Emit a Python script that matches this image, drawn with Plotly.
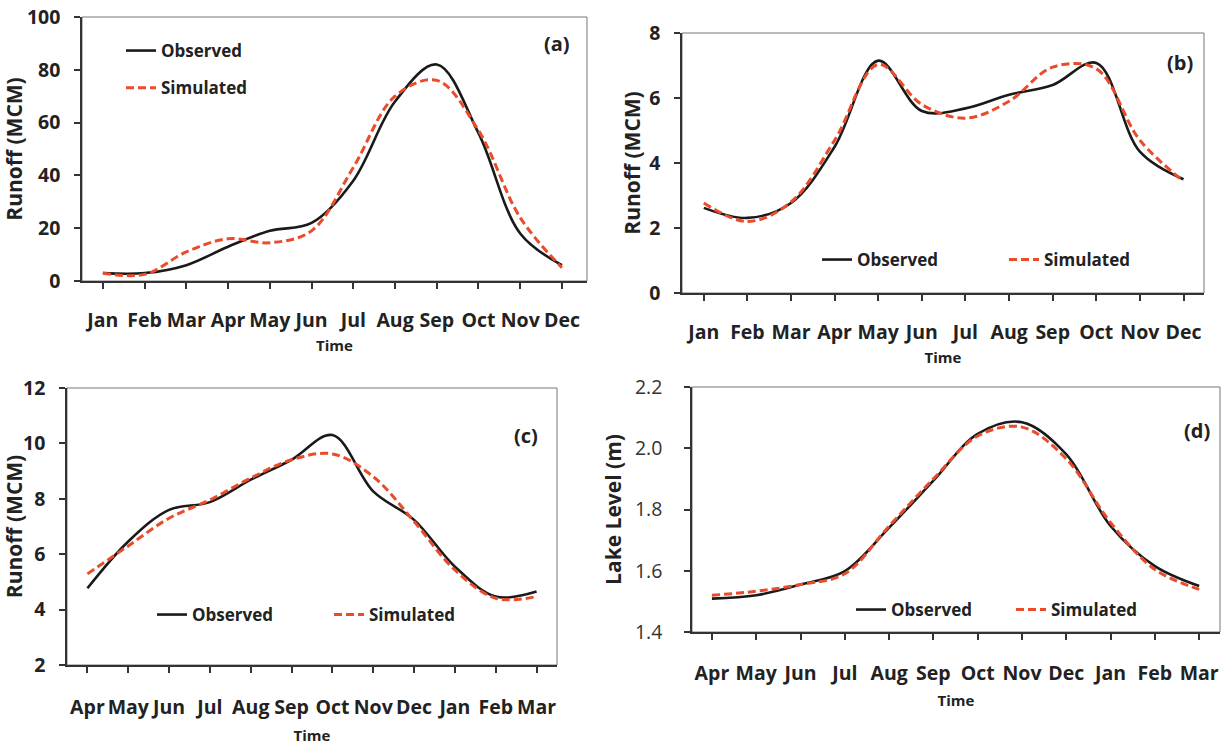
import plotly.graph_objects as go

W, H = 1231, 746

months_a = ["Jan", "Feb", "Mar", "Apr", "May", "Jun", "Jul", "Aug", "Sep", "Oct", "Nov", "Dec"]
obs_a = [3, 3, 6, 13, 19, 22, 38, 68, 82, 56, 18, 6]
sim_a = [3, 2.5, 11, 16, 14.5, 19, 43, 70, 76, 57, 24, 5]

months_b = ["Jan", "Feb", "Mar", "Apr", "May", "Jun", "Jul", "Aug", "Sep", "Oct", "Nov", "Dec"]
obs_b = [2.62, 2.31, 2.77, 4.5, 7.15, 5.6, 5.68, 6.1, 6.4, 7.08, 4.35, 3.5]
sim_b = [2.77, 2.2, 2.8, 4.7, 7.03, 5.8, 5.38, 5.9, 6.95, 6.9, 4.7, 3.44]

months_c = ["Apr", "May", "Jun", "Jul", "Aug", "Sep", "Oct", "Nov", "Dec", "Jan", "Feb", "Mar"]
obs_c = [4.77, 6.46, 7.6, 7.88, 8.69, 9.41, 10.3, 8.27, 7.24, 5.55, 4.47, 4.65]
sim_c = [5.29, 6.3, 7.3, 7.96, 8.75, 9.41, 9.62, 8.8, 7.18, 5.43, 4.41, 4.47]

months_d = ["Apr", "May", "Jun", "Jul", "Aug", "Sep", "Oct", "Nov", "Dec", "Jan", "Feb", "Mar"]
obs_d = [1.509, 1.52, 1.555, 1.599, 1.741, 1.894, 2.047, 2.085, 1.98, 1.746, 1.615, 1.55]
sim_d = [1.52, 1.533, 1.555, 1.59, 1.746, 1.9, 2.04, 2.069, 1.965, 1.757, 1.604, 1.539]

FONT = "Open Sans, Lato, sans-serif"
BLACK = "#1a1a1a"
RED = "#EA4B2B"

# plot areas in pixels: (left, right, top, bottom)
boxes = {
    "a": (82, 587, 17, 281),
    "b": (682, 1204, 33, 293),
    "c": (67, 557, 388, 665),
    "d": (692, 1220, 387, 632),
}
xranges = {"a": [-0.5, 11.6], "b": [-0.5, 11.47], "c": [-0.5, 11.5], "d": [-0.45, 11.47]}


def xdom(b):
    return [b[0] / W, b[1] / W]


def ydom(b):
    return [1 - b[3] / H, 1 - b[2] / H]


fig = go.Figure()

panels = [
    ("a", "", months_a, obs_a, sim_a, "legend"),
    ("b", "2", months_b, obs_b, sim_b, "legend2"),
    ("c", "3", months_c, obs_c, sim_c, "legend3"),
    ("d", "4", months_d, obs_d, sim_d, "legend4"),
]

for key, xs, months, obs, sim, leg in panels:
    fig.add_trace(go.Scatter(
        x=list(range(len(months))), y=obs, mode="lines", name="Observed",
        line=dict(color=BLACK, width=2.6, shape="spline", smoothing=1.0),
        xaxis="x" + xs, yaxis="y" + xs, legend=leg, legendgroup="o" + key,
    ))
    fig.add_trace(go.Scatter(
        x=list(range(len(months))), y=sim, mode="lines", name="Simulated",
        line=dict(color=RED, width=3, dash="8px,4px", shape="spline", smoothing=1.0),
        xaxis="x" + xs, yaxis="y" + xs, legend=leg, legendgroup="s" + key,
    ))

tickfont_b = dict(family=FONT, size=19.5, color="#222", weight="bold")
tickfont_n = dict(family=FONT, size=19.5, color="#333")
titlefont = dict(family=FONT, size=15, color="#222", weight="bold")
ytitlefont = dict(family=FONT, size=21, color="#222", weight="bold")


def xaxis(key, months, boundaries, anchor, lstand, tstand):
    b = boxes[key]
    return dict(
        domain=xdom(b), anchor=anchor, range=xranges[key], automargin=False,
        tickmode="array", tickvals=list(range(len(months))), ticktext=months,
        tickson="boundaries" if boundaries else "labels",
        ticks="outside", ticklen=6, tickwidth=1.5, tickcolor="#333",
        tickangle=0, tickfont=tickfont_b, ticklabelstandoff=lstand,
        showline=True, linecolor="#333", linewidth=1.5,
        showgrid=False, zeroline=False,
        title=dict(text="Time", font=titlefont, standoff=tstand),
    )


def yaxis(key, rng, dtick, title, tf, anchor, lstand, tstand):
    b = boxes[key]
    return dict(
        domain=ydom(b), anchor=anchor, range=rng, dtick=dtick, automargin=False,
        ticks="outside", ticklen=6, tickwidth=1.5, tickcolor="#333",
        tickfont=tf, ticklabelstandoff=lstand,
        showline=True, linecolor="#333", linewidth=1.5,
        showgrid=False, zeroline=False,
        title=dict(text=title, font=ytitlefont, standoff=tstand),
    )


fig.update_layout(
    width=W, height=H,
    margin=dict(l=0, r=0, t=0, b=0, autoexpand=False),
    paper_bgcolor="white", plot_bgcolor="white",
    showlegend=True,
    xaxis=xaxis("a", months_a, True, "y", 15, 8),
    yaxis=yaxis("a", [0, 100], 20, "Runoff (MCM)", tickfont_b, "x", 10, 3),
    xaxis2=xaxis("b", months_b, False, "y2", 15, 8),
    yaxis2=yaxis("b", [0, 8], 2, "Runoff (MCM)", tickfont_b, "x2", 10, 3),
    xaxis3=xaxis("c", months_c, True, "y3", 18, 11),
    yaxis3=yaxis("c", [2, 12], 2, "Runoff (MCM)", tickfont_b, "x3", 10, 1),
    xaxis4=xaxis("d", months_d, False, "y4", 17, 10),
    yaxis4=yaxis("d", [1.4, 2.2], 0.2, "Lake Level (m)", tickfont_n, "x4", 18, 8),
)
fig.layout.yaxis4.tickformat = ".1f"

legfont = dict(family=FONT, size=17, color="#222", weight="bold")
fig.update_layout(
    legend=dict(x=121 / W, y=1 - 33 / H, xanchor="left", yanchor="top",
                orientation="v", font=legfont, bgcolor="rgba(0,0,0,0)",
                tracegroupgap=12),
    legend2=dict(x=817 / W, y=1 - 242 / H, xanchor="left", yanchor="top",
                 orientation="h", font=legfont, bgcolor="rgba(0,0,0,0)",
                 entrywidth=142),
    legend3=dict(x=152 / W, y=1 - 597 / H, xanchor="left", yanchor="top",
                 orientation="h", font=legfont, bgcolor="rgba(0,0,0,0)",
                 entrywidth=132),
    legend4=dict(x=851 / W, y=1 - 592 / H, xanchor="left", yanchor="top",
                 orientation="h", font=legfont, bgcolor="rgba(0,0,0,0)",
                 entrywidth=115),
)

# plot-area frames and panel labels
labels = {"a": ("(a)", 557, 43), "b": ("(b)", 1180, 63), "c": ("(c)", 526, 435), "d": ("(d)", 1197, 430)}
for key, xs in [("a", ""), ("b", "2"), ("c", "3"), ("d", "4")]:
    fig.add_shape(type="rect", xref="x" + xs + " domain", yref="y" + xs + " domain",
                  x0=0, x1=1, y0=0, y1=1, line=dict(color="#777", width=1), layer="below")
    t, px, py = labels[key]
    fig.add_annotation(text=t, x=px / W, y=1 - py / H, xref="paper", yref="paper",
                       showarrow=False, xanchor="center", yanchor="middle",
                       font=dict(family=FONT, size=20, color="#222", weight="bold"))

fig.write_html("out.html")
